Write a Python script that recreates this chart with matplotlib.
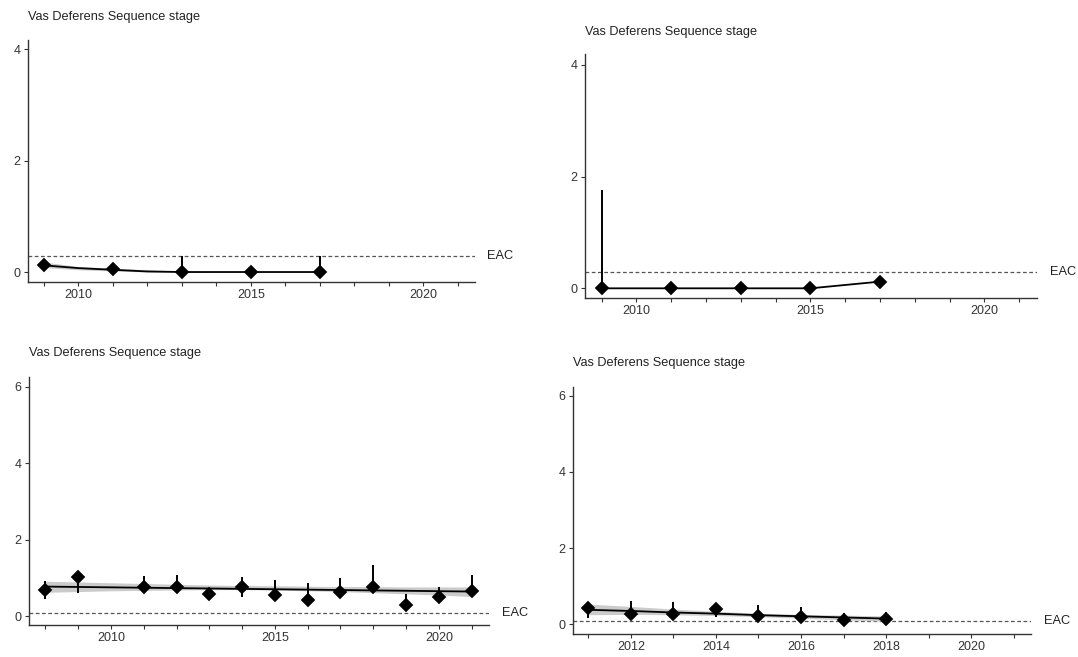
import matplotlib
matplotlib.use("Agg")
import matplotlib.pyplot as plt
from matplotlib.ticker import MultipleLocator

plt.rcParams["font.family"] = ["Liberation Sans", "DejaVu Sans"]

TITLE = "Vas Deferens Sequence stage"

# top left
years_a = [2009, 2011, 2013, 2015, 2017]
values_a = [0.13, 0.05, 0.0, 0.0, 0.0]
lower_a = [0.09, 0.02, 0.0, 0.0, 0.0]
upper_a = [0.22, 0.12, 0.28, 0.0, 0.28]
trend_years_a = [2009, 2010, 2011, 2012, 2013, 2014, 2015, 2016, 2017]
trend_a = [0.12, 0.07, 0.04, 0.01, 0.0, 0.0, 0.0, 0.0, 0.0]
band_years_a = [2009, 2010, 2011, 2012, 2013, 2014]
band_lo_a = [0.08, 0.04, 0.02, 0.0, 0.0, 0.0]
band_hi_a = [0.18, 0.10, 0.07, 0.04, 0.02, 0.0]
eac_a = 0.29

# top right
years_b = [2009, 2011, 2013, 2015, 2017]
values_b = [0.0, 0.0, 0.0, 0.0, 0.12]
lower_b = [0.0, 0.0, 0.0, 0.0, 0.04]
upper_b = [1.76, 0.0, 0.0, 0.0, 0.16]
trend_years_b = [2009, 2011, 2013, 2015, 2017]
trend_b = [0.0, 0.0, 0.0, 0.0, 0.12]
eac_b = 0.29

# bottom left
years_c = [2008, 2009, 2011, 2012, 2013, 2014, 2015, 2016, 2017, 2018, 2019, 2020, 2021]
values_c = [0.68, 1.01, 0.77, 0.77, 0.58, 0.77, 0.56, 0.42, 0.62, 0.77, 0.29, 0.49, 0.66]
lower_c = [0.44, 0.59, 0.72, 0.72, 0.46, 0.49, 0.50, 0.40, 0.58, 0.72, 0.27, 0.35, 0.62]
upper_c = [0.92, 1.13, 1.05, 1.06, 0.68, 1.03, 0.94, 0.86, 0.99, 1.33, 0.58, 0.75, 1.06]
trend_years_c = [2008, 2009, 2010, 2011, 2012, 2013, 2014, 2015, 2016, 2017, 2018, 2019, 2020, 2021]
trend_c = [0.77, 0.76, 0.75, 0.74, 0.73, 0.72, 0.71, 0.70, 0.69, 0.68, 0.67, 0.66, 0.65, 0.64]
band_lo_c = [0.62, 0.64, 0.66, 0.67, 0.68, 0.69, 0.69, 0.68, 0.66, 0.64, 0.61, 0.58, 0.55, 0.51]
band_hi_c = [0.91, 0.89, 0.87, 0.85, 0.83, 0.81, 0.80, 0.79, 0.78, 0.77, 0.77, 0.76, 0.76, 0.76]
eac_c = 0.09

# bottom right
years_d = [2011, 2012, 2013, 2014, 2015, 2016, 2017, 2018]
values_d = [0.42, 0.27, 0.28, 0.40, 0.22, 0.18, 0.11, 0.14]
lower_d = [0.16, 0.25, 0.26, 0.18, 0.20, 0.16, 0.09, 0.12]
upper_d = [0.56, 0.62, 0.58, 0.50, 0.51, 0.45, 0.29, 0.33]
trend_years_d = [2011, 2012, 2013, 2014, 2015, 2016, 2017, 2018]
trend_d = [0.38, 0.35, 0.31, 0.28, 0.24, 0.21, 0.18, 0.15]
band_lo_d = [0.25, 0.26, 0.25, 0.23, 0.20, 0.16, 0.12, 0.08]
band_hi_d = [0.53, 0.47, 0.40, 0.34, 0.29, 0.26, 0.24, 0.22]
eac_d = 0.09

W, H = 1078, 657
fig = plt.figure(figsize=(W / 100, H / 100), dpi=100)

AXIS_COL = "#333333"


def panel(box, title_xy, xlim, ylim, major, yticks, years, values, lower, upper,
          t_years, trend, eac, band=None):
    l, t, r, b = box
    ax = fig.add_axes([l / W, 1 - b / H, (r - l) / W, (b - t) / H])
    if band is not None:
        b_years, b_lo, b_hi = band
        ax.fill_between(b_years, b_lo, b_hi, color="#cbcbcb", lw=0, zorder=1)
    ax.plot(t_years, trend, color="black", lw=1.3, zorder=2)
    ax.vlines(years, lower, upper, color="black", lw=1.4, zorder=3)
    ax.plot(years, values, ls="none", marker="D", ms=6, color="black",
            mec="black", mew=1.3, zorder=4)
    ax.axhline(eac, color="#555555", lw=0.9, dashes=(3, 2), zorder=0)
    ax.annotate("EAC", xy=(1, eac), xycoords=ax.get_yaxis_transform(),
                xytext=(13, 0), textcoords="offset pixels",
                ha="left", va="center", fontsize=9.2, color="#222222",
                annotation_clip=False)

    ax.set_xlim(*xlim)
    ax.set_ylim(*ylim)
    ax.xaxis.set_major_locator(MultipleLocator(major))
    ax.xaxis.set_minor_locator(MultipleLocator(1))
    ax.set_yticks(yticks)
    ax.xaxis.set_major_formatter(lambda v, p: f"{int(round(v))}")
    for s in ("top", "right"):
        ax.spines[s].set_visible(False)
    for s in ("left", "bottom"):
        ax.spines[s].set_color(AXIS_COL)
        ax.spines[s].set_linewidth(1.0)
    ax.tick_params(which="both", length=3.2, width=0.8, color=AXIS_COL,
                   labelsize=9, labelcolor="#333333", pad=2)
    fig.text(title_xy[0] / W, 1 - title_xy[1] / H, TITLE, fontsize=9.2,
             color="#222222", ha="left", va="center")
    return ax


panel((28, 40, 474.5, 281.7), (27.5, 16.7), (2008.54, 2021.48), (-0.174, 4.17), 5,
      [0, 2, 4], years_a, values_a, lower_a, upper_a,
      trend_years_a, trend_a, eac_a, (band_years_a, band_lo_a, band_hi_a))

panel((585, 54.3, 1036.6, 297.7), (585, 31.7), (2008.52, 2021.5), (-0.168, 4.19), 5,
      [0, 2, 4], years_b, values_b, lower_b, upper_b,
      trend_years_b, trend_b, eac_b)

panel((29, 376.7, 489, 625), (29, 352.7), (2007.5, 2021.53), (-0.235, 6.26), 5,
      [0, 2, 4, 6], years_c, values_c, lower_c, upper_c,
      trend_years_c, trend_c, eac_c, (trend_years_c, band_lo_c, band_hi_c))

panel((572.6, 386.7, 1030.7, 634), (572.6, 362.7), (2010.63, 2021.4), (-0.255, 6.24), 2,
      [0, 2, 4, 6], years_d, values_d, lower_d, upper_d,
      trend_years_d, trend_d, eac_d, (trend_years_d, band_lo_d, band_hi_d))

fig.savefig("out.png", dpi=100)
